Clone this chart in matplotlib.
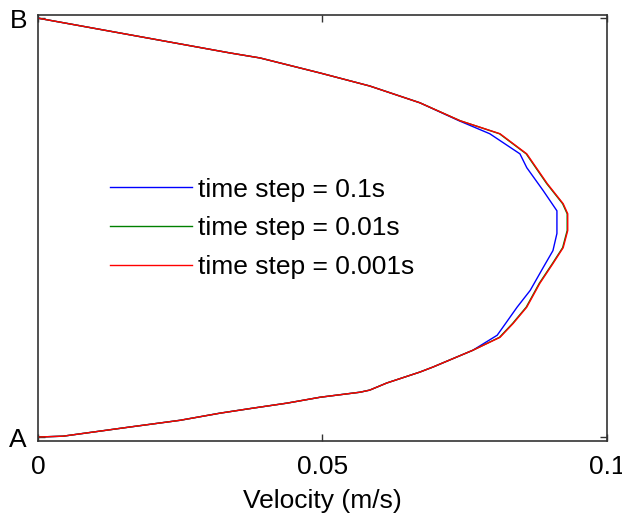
import matplotlib
matplotlib.use("Agg")
import matplotlib.pyplot as plt

# position across the channel, A = 0, B = 1
pos_red = [1.0, 0.917, 0.905, 0.869, 0.838, 0.798, 0.755, 0.724, 0.676, 0.605,
           0.557, 0.533, 0.493, 0.452, 0.414, 0.367, 0.310, 0.271, 0.238, 0.207,
           0.167, 0.155, 0.129, 0.112, 0.107, 0.095, 0.081, 0.069, 0.057, 0.040,
           0.024, 0.002, 0.0]
vel_red = [0.0, 0.0337, 0.0390, 0.0496, 0.0583, 0.0671, 0.0742, 0.0812, 0.0859, 0.0895,
           0.0923, 0.0931, 0.0931, 0.0923, 0.0905, 0.0882, 0.0859, 0.0835, 0.0812, 0.0764,
           0.0694, 0.0671, 0.0613, 0.0583, 0.0566, 0.0496, 0.0438, 0.0378, 0.0320, 0.0250,
           0.0162, 0.0044, 0.0]

pos_green = [1.0, 0.917, 0.905, 0.869, 0.838, 0.798, 0.755, 0.724, 0.676, 0.605,
             0.557, 0.533, 0.493, 0.452, 0.414, 0.367, 0.310, 0.271, 0.238, 0.207,
             0.167, 0.155, 0.129, 0.112, 0.107, 0.095, 0.081, 0.069, 0.057, 0.040,
             0.024, 0.002, 0.0]
vel_green = [0.0, 0.0337, 0.0390, 0.0496, 0.0583, 0.0671, 0.0742, 0.0811, 0.0858, 0.0894,
             0.0922, 0.0930, 0.0930, 0.0922, 0.0904, 0.0881, 0.0858, 0.0834, 0.0811, 0.0764,
             0.0694, 0.0671, 0.0613, 0.0583, 0.0566, 0.0496, 0.0438, 0.0378, 0.0320, 0.0250,
             0.0162, 0.0044, 0.0]

pos_blue = [1.0, 0.917, 0.905, 0.869, 0.838, 0.798, 0.755, 0.724, 0.676, 0.643,
            0.588, 0.540, 0.486, 0.445, 0.405, 0.350, 0.310, 0.262, 0.243, 0.207,
            0.167, 0.155, 0.129, 0.112, 0.107, 0.095, 0.081, 0.069, 0.057, 0.040,
            0.024, 0.002, 0.0]
vel_blue = [0.0, 0.0337, 0.0390, 0.0496, 0.0583, 0.0671, 0.0740, 0.0794, 0.0847, 0.0859,
            0.0888, 0.0912, 0.0912, 0.0905, 0.0888, 0.0865, 0.0842, 0.0817, 0.0807, 0.0764,
            0.0694, 0.0671, 0.0613, 0.0583, 0.0566, 0.0496, 0.0438, 0.0378, 0.0320, 0.0250,
            0.0162, 0.0044, 0.0]

labels = ["time step = 0.1s", "time step = 0.01s", "time step = 0.001s"]
x_ticks = [0, 0.05, 0.1]
x_ticklabels = ["0", "0.05", "0.1"]
y_ticks = [0, 1]
y_ticklabels = ["A", "B"]

plt.rcParams["font.family"] = ["Liberation Sans", "DejaVu Sans"]
plt.rcParams["font.size"] = 19

fig = plt.figure(figsize=(6.22, 5.20), dpi=100)
ax = fig.add_axes([38 / 622, 79 / 520, 569 / 622, 426 / 520])

ax.plot(vel_blue, pos_blue, color="#0000ff", lw=1.0, label=labels[0])
ax.plot(vel_green, pos_green, color="#008000", lw=1.0, label=labels[1])
ax.plot(vel_red, pos_red, color="#ff0000", lw=1.0, label=labels[2])

ax.set_xlim(0, 0.1)
ax.set_ylim(-0.0095, 1.0075)
ax.set_xticks(x_ticks)
ax.set_xticklabels(x_ticklabels)
ax.set_yticks(y_ticks)
ax.set_yticklabels(y_ticklabels)
ax.tick_params(direction="in", top=True, right=True, length=5, width=1,
               color="#333333")
ax.tick_params(axis="x", pad=10)
ax.tick_params(axis="y", pad=8)
for sp in ax.spines.values():
    sp.set_color("#333333")
    sp.set_linewidth(1.2)

ax.set_xlabel("Velocity (m/s)", labelpad=7)

ax.legend(loc="center left", bbox_to_anchor=(72 / 569, 0.499), frameon=False,
          borderpad=0, borderaxespad=0, handlelength=3.1, handletextpad=0.25,
          labelspacing=0.56, fontsize=19)

fig.savefig("out.png", dpi=100)
